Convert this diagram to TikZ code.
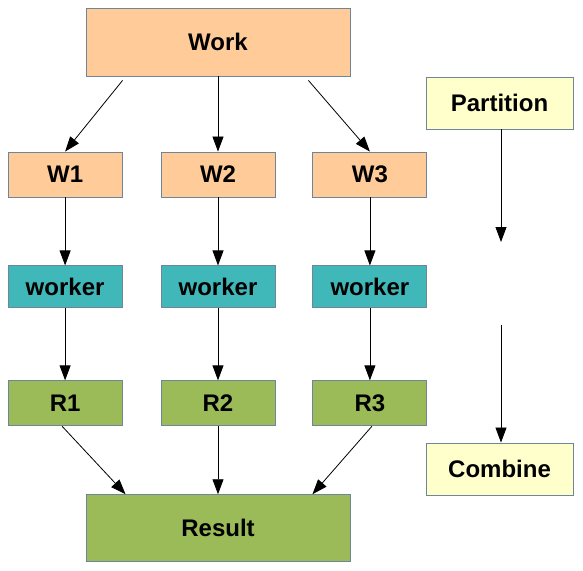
\documentclass[tikz,border=0pt]{standalone}
\usepackage{xcolor}
\usepackage{fontspec}
\setmainfont{Liberation Sans}
\usetikzlibrary{arrows.meta,positioning}

\definecolor{workorange}{HTML}{FFCC99}
\definecolor{workerteal}{HTML}{40B7B9}
\definecolor{resultgreen}{HTML}{9BBB59}
\definecolor{notefill}{HTML}{FFFFCC}
\definecolor{boxedge}{HTML}{6F8599}

\tikzset{
  box/.style={rectangle,draw=boxedge,line width=0.9pt,inner sep=0pt,
    font=\bfseries\fontsize{24}{28}\selectfont},
  wbox/.style={box,fill=workorange,minimum width=114pt,minimum height=45pt},
  kbox/.style={box,fill=workerteal,minimum width=114pt,minimum height=42pt},
  rbox/.style={box,fill=resultgreen,minimum width=114pt,minimum height=45pt},
  notebox/.style={box,fill=notefill,minimum width=147pt,minimum height=52pt},
  arr/.style={-{Triangle[length=15pt,width=11pt]},line width=0.8pt}
}

\begin{document}
\begin{tikzpicture}[x=1pt,y=-1pt]
\useasboundingbox (0,0) rectangle (583,570);
\node [wbox,minimum width=264pt,minimum height=68pt] (work) at (218,42) {Work};
\node [wbox] (w2) at (218,174.5) {W2};
\node [wbox,left=38pt of w2] (w1) {W1};
\node [wbox,right=37pt of w2] (w3) {W3};
\node [kbox,below=68pt of w1] (k1) {worker};
\node [kbox,below=68pt of w2] (k2) {worker};
\node [kbox,below=68pt of w3] (k3) {worker};
\node [rbox,below=72pt of k1] (r1) {R1};
\node [rbox,below=72pt of k2] (r2) {R2};
\node [rbox,below=72pt of k3] (r3) {R3};
\node [rbox,minimum width=264pt,minimum height=67pt,below=68pt of r2] (result) {Result};
\node [notebox] (part) at (499.5,103) {Partition};
\node [notebox] (comb) at (499.5,469) {Combine};
\coordinate (pmid) at (501,242);
\coordinate (cmid) at (501,325);
% fan out
\draw [arr] ([xshift=37pt,yshift=-4pt]work.south west) -- (w1.north);
\draw [arr] (work) -- (w2);
\draw [arr] ([xshift=-42pt,yshift=-4pt]work.south east) -- (w3.north);
\draw [arr] (w1) -- (k1);
\draw [arr] (w2) -- (k2);
\draw [arr] (w3) -- (k3);
\draw [arr] (k1) -- (r1);
\draw [arr] (k2) -- (r2);
\draw [arr] (k3) -- (r3);
% fan in
\draw [arr] ([xshift=-3pt]r1.south) -- ([xshift=40pt]result.north west);
\draw [arr] (r2) -- (result);
\draw [arr] ([xshift=2pt]r3.south) -- ([xshift=-38pt]result.north east);
% legend
\draw [arr] (part.south -| pmid) -- (pmid);
\draw [arr] (cmid) -- (comb.north -| cmid);
\end{tikzpicture}
\end{document}
